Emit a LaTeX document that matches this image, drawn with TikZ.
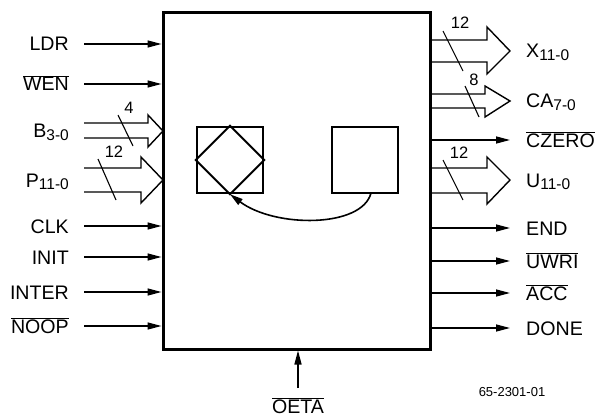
\documentclass[tikz,border=0pt]{standalone}
\usepackage{fontspec}
\setmainfont{Liberation Sans}
\usetikzlibrary{arrows.meta}
\newcommand{\pinsub}[1]{\raisebox{-2.3pt}{\fontsize{15.5}{17}\selectfont #1}}
\newcommand{\ovl}[1]{$\overline{\hbox{#1}}$}
\tikzset{
  pinlbl/.style={inner sep=0pt, font=\fontsize{19.6}{21}\selectfont},
  lpin/.style={pinlbl, anchor=base east},
  rpin/.style={pinlbl, anchor=base west},
  sig/.style={line width=1.4pt, -{Triangle[length=14pt,width=7pt]}},
  bus/.style={line width=1.4pt, line join=miter},
  slash/.style={line width=1.1pt},
  buswidth/.style={inner sep=0pt, font=\fontsize{16.5}{18}\selectfont},
  chipbox/.style={draw, line width=3pt, minimum width=267pt, minimum height=336pt, inner sep=0pt},
  innerbox/.style={draw, line width=2.5pt, minimum width=66pt, minimum height=66pt, inner sep=0pt},
}
\begin{document}
\begin{tikzpicture}[x=1pt,y=-1pt]
\useasboundingbox (0,0) rectangle (597,417);
\node[chipbox] (chip) at (296.5,181) {};
% inner squares
\node[innerbox] (sqa) at (230,160) {};
\node[innerbox] (sqb) at (365,160) {};
\draw[line width=1.8pt, line join=miter] (sqa.north) -- (sqa.east) -- (sqa.south) -- (sqa.west) -- cycle;
\coordinate (arcS) at (371,193);
\draw[line width=1.6pt, -{Triangle[length=13pt,width=7pt]}] (arcS) .. controls (362,228) and (275,228) .. (sqa.south);

% left single inputs
\foreach \nm/\yy/\txt in {ldr/44/LDR, wen/84/\ovl{WEN}, clk/226/CLK, init/257/INIT, inter/292/INTER, noop/326/\ovl{NOOP}}{
  \node[lpin] (l\nm) at (69,\yy+7) {\txt};
  \coordinate (ls\nm) at (84,\yy);
  \draw[sig] (ls\nm) -- (ls\nm -| chip.west);
}
% B bus
\node[lpin] (lb) at (69,131+7) {B\pinsub{3-0}};
\coordinate (bt) at (163,131);
\draw[bus] (84,123) -- (148,123) -- (148,115) -- (bt) -- (148,147) -- (148,138) -- (84,138);
\draw[slash] (118,115) -- (133,146);
\node[buswidth] (bw) at (129,108) {4};
% P bus
\node[lpin] (lp) at (69,180+7) {P\pinsub{11-0}};
\coordinate (pt) at (163,180);
\draw[bus] (84,168) -- (141,168) -- (141,157) -- (pt) -- (141,203) -- (141,192) -- (84,192);
\draw[slash] (98,159) -- (116,200);
\node[buswidth] (pw) at (114,152) {12};

% right single outputs
\foreach \nm/\yy/\txt in {czero/140/\ovl{CZERO}, end/228/END, uwri/261/\ovl{UWRI}, acc/293/\ovl{ACC}, done/328/DONE}{
  \node[rpin] (r\nm) at (526,\yy+7) {\txt};
  \coordinate (re\nm) at (510,\yy);
  \draw[sig] (re\nm -| chip.east) -- (re\nm);
}
% X bus
\node[rpin] (rx) at (526,51+7) {X\pinsub{11-0}};
\draw[bus] (430,40) -- (487,40) -- (487,27) -- (510,51) -- (487,74) -- (487,62) -- (430,62);
\draw[slash] (443,31) -- (463,71);
\node[buswidth] (xw) at (460,23) {12};
% CA bus
\node[rpin] (rca) at (526,101+7) {CA\pinsub{7-0}};
\draw[bus] (430,94) -- (485,94) -- (485,86) -- (510,101) -- (485,117) -- (485,108) -- (430,108);
\draw[slash] (465,86) -- (479,117);
\node[buswidth] (caw) at (474,80) {8};
% U bus
\node[rpin] (ru) at (526,180+7) {U\pinsub{11-0}};
\draw[bus] (430,168) -- (487,168) -- (487,157) -- (510,180) -- (487,204) -- (487,193) -- (430,193);
\draw[slash] (443,160) -- (463,200);
\node[buswidth] (uw) at (459,153) {12};

% bottom OETA
\node[pinlbl, anchor=base] (oeta) at (298,413) {\ovl{OETA}};
\coordinate (os) at (298,388);
\draw[sig] (os) -- (os |- chip.south);

\node[inner sep=0pt, font=\fontsize{13}{14}\selectfont] (ref) at (512,392) {65-2301-01};
\end{tikzpicture}
\end{document}
